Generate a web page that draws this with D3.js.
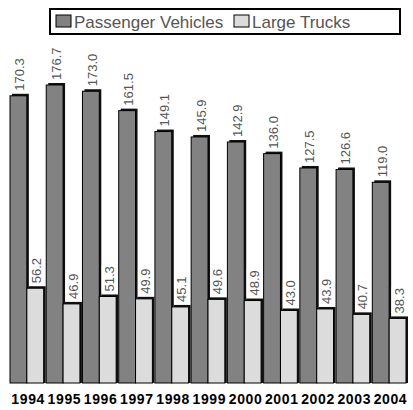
<!DOCTYPE html><html><head><script src="https://cdn.jsdelivr.net/npm/d3@7"></script>
<style>body{margin:0;background:#fff}</style></head><body><svg id="c" width="413" height="410"></svg><script>
const years=["1994","1995","1996","1997","1998","1999","2000","2001","2002","2003","2004"];
const passenger=[170.3,176.7,173.0,161.5,149.1,145.9,142.9,136.0,127.5,126.6,119.0];
const trucks=[56.2,46.9,51.3,49.9,45.1,49.6,48.9,43.0,43.9,40.7,38.3];
const series=[{name:"Passenger Vehicles",vals:passenger,fill:"#828282"},{name:"Large Trucks",vals:trucks,fill:"#dcdcdc"}];
const svg=d3.select("#c");
const x=d3.scaleBand().domain(years).range([10,406]).paddingInner(0.07).paddingOuter(0);
const xs=d3.scaleBand().domain([0,1]).range([0,x.bandwidth()]);
const y=d3.scaleLinear().domain([0,176.7]).range([383,85]);
series.forEach((s,si)=>{
  const g=svg.append("g");
  s.vals.forEach((v,i)=>{
    const bx=x(years[i])+xs(si),bw=xs.bandwidth(),by=y(v);
    g.append("rect").attr("x",bx+2).attr("y",by-2).attr("width",bw).attr("height",y(0)-by+2).attr("fill","#111");
    g.append("rect").attr("x",bx).attr("y",by).attr("width",bw).attr("height",y(0)-by).attr("fill",s.fill).attr("stroke","#000").attr("stroke-width",1);
  });
});
series.forEach((s,si)=>{
  s.vals.forEach((v,i)=>{
    const cx=x(years[i])+xs(si)+xs.bandwidth()/2+1,by=y(v)-5;
    const t=svg.append("text").attr("transform",`translate(${cx+5},${by}) rotate(-90)`).attr("font-family","Liberation Sans, Arial").attr("font-size",13).attr("fill","#555").text(v.toFixed(1));
    if(si===1){const b=t.node().getBBox();svg.insert("rect",()=>t.node()).attr("transform",`translate(${cx+5},${by}) rotate(-90)`).attr("x",b.x-1).attr("y",b.y).attr("width",b.width+2).attr("height",b.height).attr("fill","#fff");}
  });
});
svg.append("g").selectAll("text").data(years).join("text").attr("x",d=>x(d)+x.bandwidth()/2+1).attr("y",404).attr("text-anchor","middle").attr("font-family","Liberation Sans, Arial").attr("font-weight","bold").attr("font-size",14).attr("textLength",33).text(d=>d);
svg.append("rect").attr("x",50).attr("y",9).attr("width",350).attr("height",25).attr("fill","#fff").attr("stroke","#000").attr("stroke-width",2);
const lx=[56,234];
series.forEach((s,i)=>{
  svg.append("rect").attr("x",lx[i]).attr("y",15).attr("width",15).attr("height",12).attr("fill",s.fill).attr("stroke","#000");
  svg.append("text").attr("x",lx[i]+18).attr("y",28).attr("font-family","Liberation Sans, Arial").attr("font-size",17).attr("fill","#555").text(s.name);
});
</script></body></html>
